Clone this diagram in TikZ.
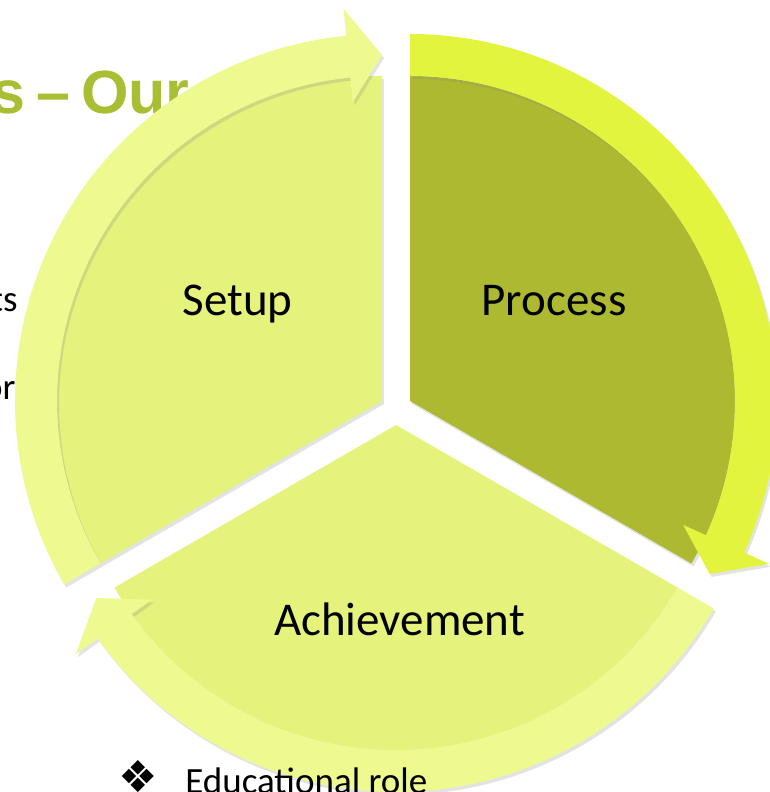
\documentclass[tikz,border=0pt]{standalone}
\usepackage{fontspec}
\setmainfont{Carlito}
\newfontfamily\titlefont{Liberation Sans}
\newfontfamily\symbolfont{DejaVu Sans}
\usetikzlibrary{shadows}

\definecolor{pielight}{HTML}{E5F27B}
\definecolor{ringlight}{HTML}{EEF98F}
\definecolor{pieolive}{HTML}{ADBA31}
\definecolor{ringbright}{HTML}{E2F43D}
\definecolor{titlegreen}{HTML}{A9BE33}

\begin{document}
\begin{tikzpicture}[x=0.5pt, y=0.5pt,
    softshadow/.style={drop shadow={shadow xshift=1pt, shadow yshift=-1.5pt, opacity=0.22}},
    segtext/.style={font=\fontsize{23.5}{28}\selectfont, text=black, inner sep=0pt},
    backtext/.style={font=\fontsize{18.5}{22}\selectfont, text=black, inner sep=0pt}]
      \useasboundingbox (0,0) rectangle (770,792);

      % slide text behind the cycle
      \node[anchor=base west, inner sep=0pt, text=titlegreen,
            font=\titlefont\bfseries\fontsize{30.5}{36}\selectfont] (title) at (-9,678) {\spaceskip=.18em s – Our};
      \node[backtext, anchor=base east] (ts) at (18,480) {ts};
      \node[backtext, anchor=base east] (or) at (16,392) {or};

      \coordinate (S0) at (382,391);
      \coordinate (P0) at (410,391);
      \coordinate (A0) at (396,367);

      % segments
      \fill[pielight, softshadow] (S0) -- ++(210:325) arc[start angle=210, end angle=90, radius=325] -- cycle;
      \fill[pieolive, softshadow] (P0) -- ++(90:325) arc[start angle=90, end angle=-30, radius=325] -- cycle;
      \fill[pielight, softshadow] (A0) -- ++(-30:325) arc[start angle=-30, end angle=-150, radius=325] -- cycle;

      % circular arrows
      \fill[ringlight, softshadow] ([shift={(210:367)}]S0) arc[start angle=210, end angle=95.6, radius=367]
            -- ([shift={(95.6:394)}]S0) -- ([shift={(90:346)}]S0) -- ([shift={(95.6:300)}]S0)
            -- ([shift={(95.6:325)}]S0) arc[start angle=95.6, end angle=210, radius=325] -- cycle;
      \fill[ringbright, softshadow] ([shift={(90:367)}]P0) arc[start angle=90, end angle=-24.4, radius=367]
            -- ([shift={(-24.4:394)}]P0) -- ([shift={(-30:346)}]P0) -- ([shift={(-24.4:300)}]P0)
            -- ([shift={(-24.4:325)}]P0) arc[start angle=-24.4, end angle=90, radius=325] -- cycle;
      \fill[ringlight, softshadow] ([shift={(-30:367)}]A0) arc[start angle=-30, end angle=-144.4, radius=367]
            -- ([shift={(-144.4:394)}]A0) -- ([shift={(-150:346)}]A0) -- ([shift={(-144.4:300)}]A0)
            -- ([shift={(-144.4:325)}]A0) arc[start angle=-144.4, end angle=-30, radius=325] -- cycle;

      \node[segtext, anchor=base] (setup) at (237.5,476) {Setup};
      \node[segtext, anchor=base] (process) at (554,476) {Process};
      \node[segtext, anchor=base] (achievement) at (399.5,156) {Achievement};

      % bullet line in front
      \node[inner sep=0pt, font=\symbolfont\fontsize{22}{26}\selectfont] (bullet) at (138,15) {❖};
      \node[backtext, anchor=base west] (role) at (185,-1.5) {Educational role};
    \end{tikzpicture}
\end{document}
